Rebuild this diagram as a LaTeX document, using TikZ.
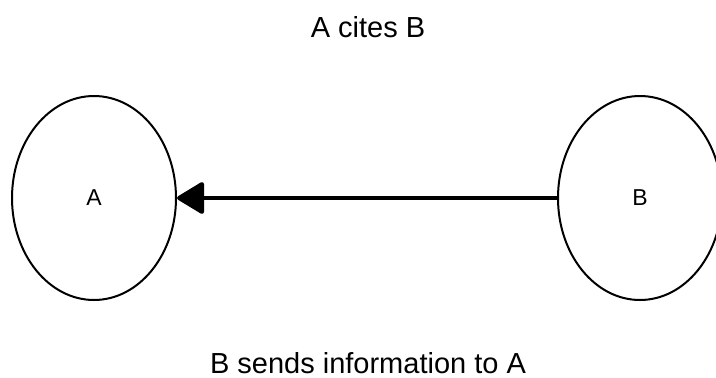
\documentclass[tikz,border=0pt]{standalone}
\usepackage{fontspec}
\setmainfont{Liberation Sans}
\usetikzlibrary{arrows.meta,shapes.geometric}
\begin{document}
\begin{tikzpicture}[x=1pt,y=-1pt,
  vertex/.style={draw=black, line width=2pt, ellipse, minimum width=164pt, minimum height=204pt, inner sep=0pt, font=\fontsize{23}{23}\selectfont},
  caption/.style={font=\fontsize{29}{29}\selectfont, inner sep=0pt, anchor=base},
  link/.style={line width=4pt, -{Triangle[length=29pt,width=34pt,round]}}
]
\clip (0,0) rectangle (716,378);
\useasboundingbox (0,0) rectangle (716,378);
\node[vertex] (a) at (94,198) {A};
\node[vertex] (b) at (640,198) {B};
\draw[link] (b.west) -- (a.east);
\node[caption] (top) at (368,37) {A cites B};
\node[caption] (bottom) at (368,373) {B sends information to A};
\end{tikzpicture}
\end{document}
